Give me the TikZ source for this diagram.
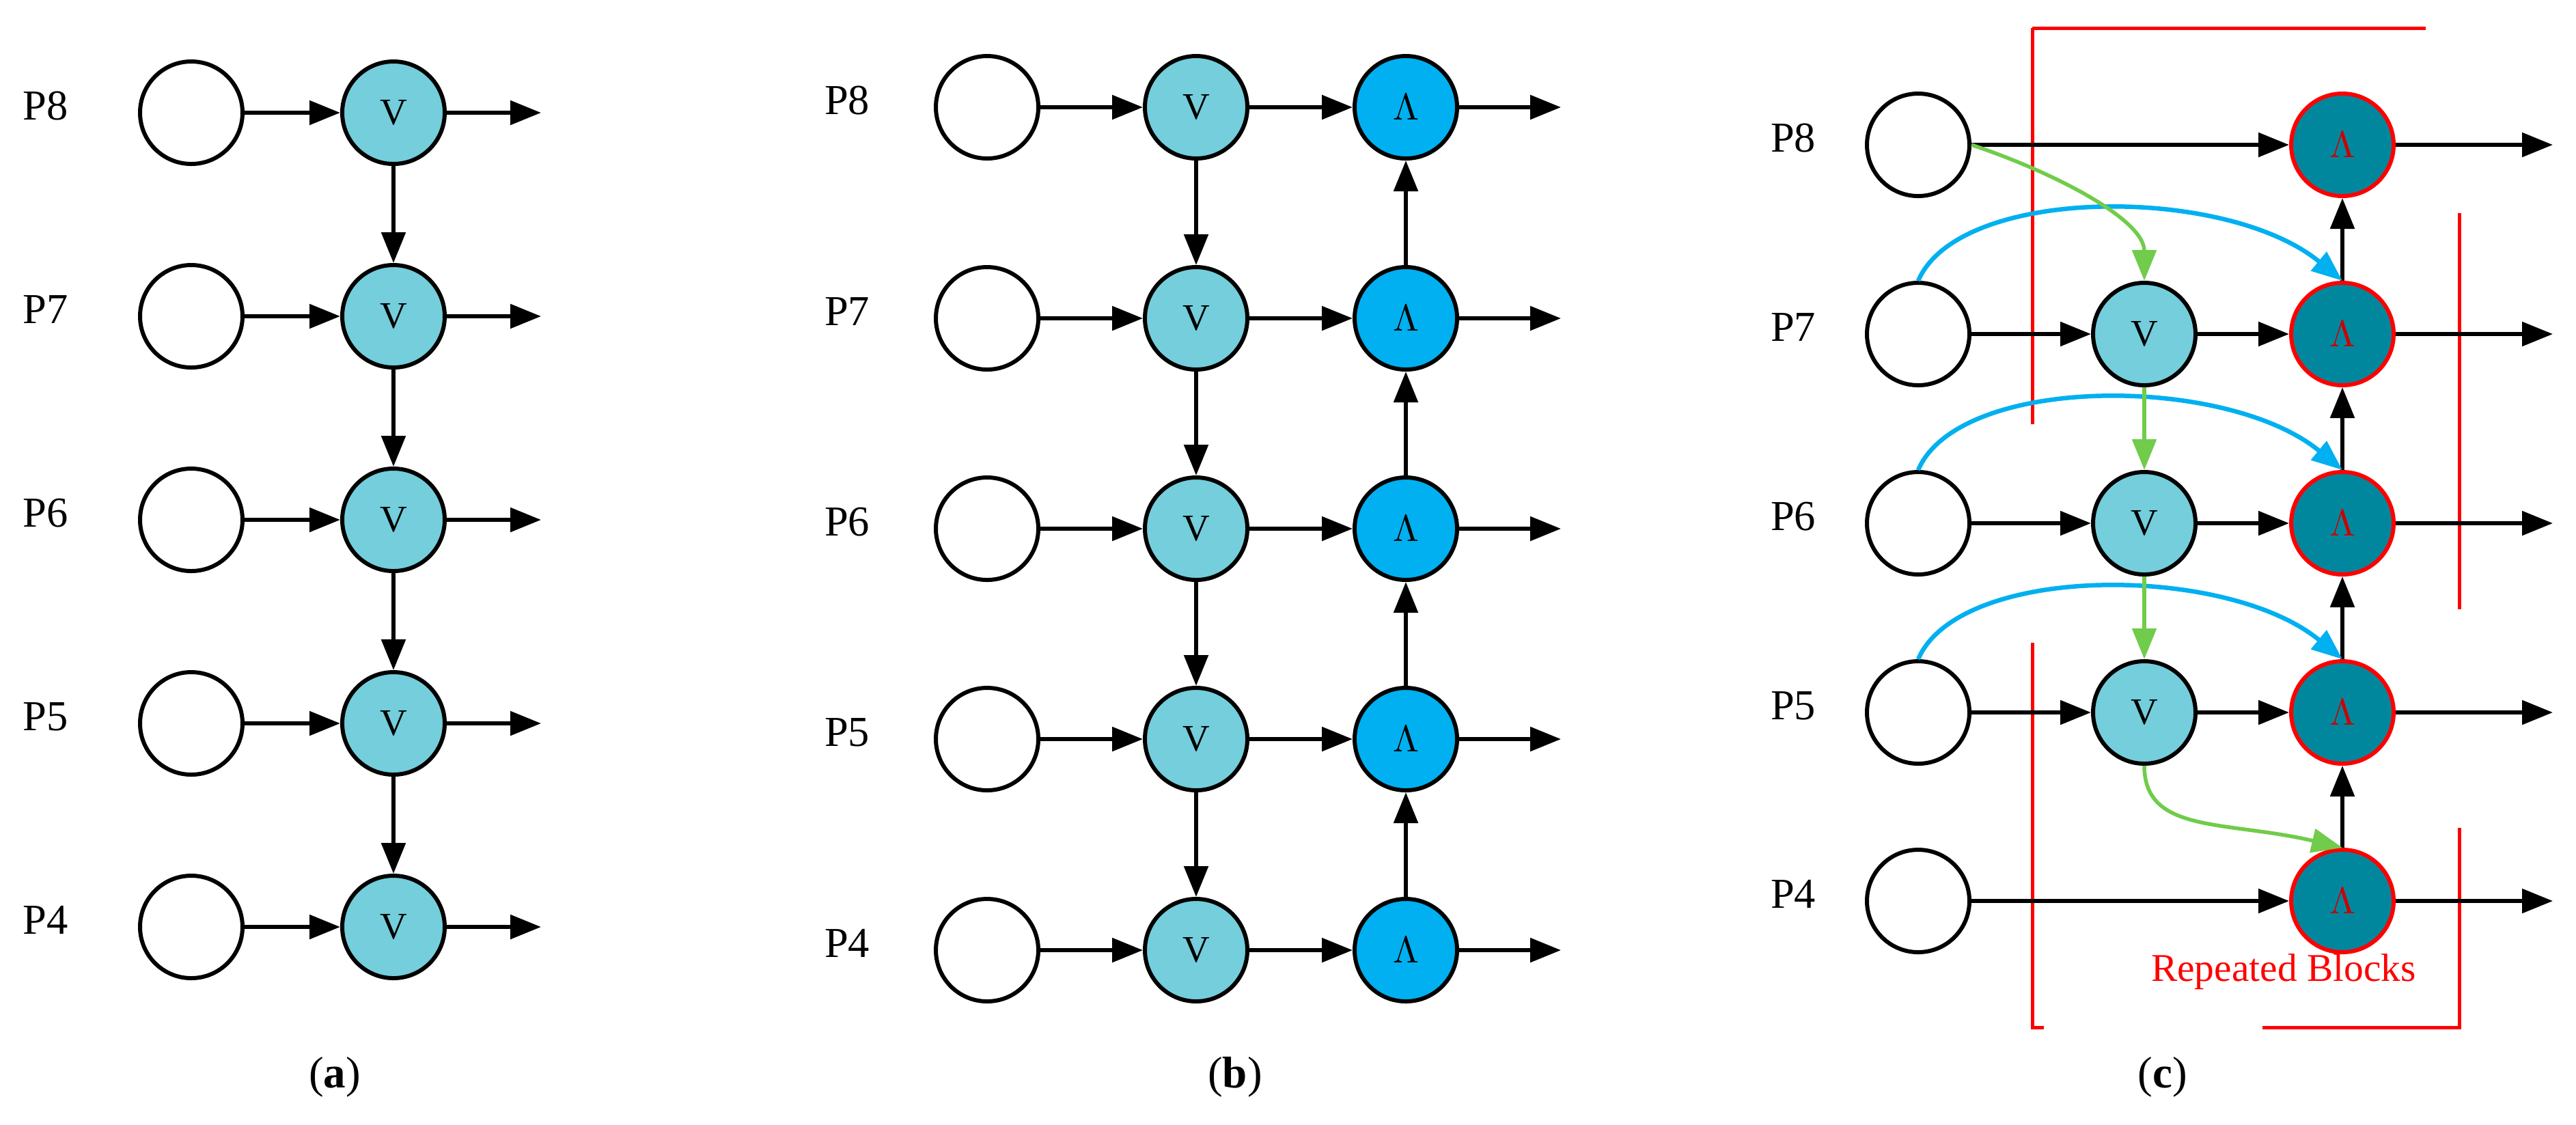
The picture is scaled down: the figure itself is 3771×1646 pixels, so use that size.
\documentclass[tikz,border=0pt]{standalone}
\usepackage{fontspec}
\setmainfont{Liberation Serif}
\usetikzlibrary{arrows.meta}
\definecolor{vfill}{HTML}{74CEDC}
\definecolor{lfill}{HTML}{00B0F0}
\definecolor{cfill}{HTML}{00879E}
\definecolor{bluearc}{HTML}{00B0F0}
\definecolor{greenarc}{HTML}{70CC4A}
\begin{document}
\begin{tikzpicture}[x=0.2pt,y=-0.2pt,
  nd/.style={circle,draw=black,line width=1.2pt,minimum size=30pt,inner sep=0pt,font=\fontsize{11}{11}\selectfont},
  wn/.style={nd,fill=white},
  vn/.style={nd,fill=vfill},
  ln/.style={nd,fill=lfill},
  cn/.style={nd,fill=cfill,draw=red,text=red!80!black},
  lab/.style={font=\fontsize{12.5}{12.5}\selectfont},
  ar/.style={line width=1.1pt,-{Triangle[length=9pt,width=7pt]}},
  gar/.style={line width=1.1pt,draw=greenarc,-{Triangle[length=9pt,width=7pt]},greenarc},
  bar/.style={line width=1.3pt,draw=bluearc,-{Triangle[length=9pt,width=7pt]},bluearc},
  captxt/.style={font=\fontsize{13}{13}\selectfont}]
\useasboundingbox (0,0) rectangle (3771,1646);
% ---------- panel a
\foreach \n/\y in {8/165,7/463,6/761,5/1059,4/1357}{
  \node[lab] (aP\n) at (67,\y-10) {P\n};
  \node[wn] (aw\n) at (280,\y) {};
  \node[vn] (av\n) at (576,\y) {V};
  \coordinate (ae\n) at (792,\y);
  \draw[ar] (aw\n) -- (av\n);
  \draw[ar] (av\n) -- (ae\n);
}
\foreach \a/\b in {8/7,7/6,6/5,5/4}{\draw[ar] (av\a) -- (av\b);}
\node[captxt] (capa) at (490,1577) {(\textbf{a})};
% ---------- panel b
\foreach \n/\y in {8/157,7/466,6/774,5/1082,4/1391}{
  \node[lab] (bP\n) at (1240,\y-10) {P\n};
  \node[wn] (bw\n) at (1445,\y) {};
  \node[vn] (bv\n) at (1751,\y) {V};
  \node[ln] (bl\n) at (2058,\y) {$\Lambda$};
  \coordinate (be\n) at (2285,\y);
  \draw[ar] (bw\n) -- (bv\n);
  \draw[ar] (bv\n) -- (bl\n);
  \draw[ar] (bl\n) -- (be\n);
}
\foreach \a/\b in {8/7,7/6,6/5,5/4}{\draw[ar] (bv\a) -- (bv\b); \draw[ar] (bl\b) -- (bl\a);}
\node[captxt] (capb) at (1808,1577) {(\textbf{b})};
% ---------- panel c
\draw[red,line width=1pt,dash pattern=on 116 off 64] (2975,41) rectangle (3600,1504);
\node[text=red,font=\fontsize{11.5}{11.5}\selectfont] (rb) at (3343,1423) {Repeated Blocks};
\foreach \n/\y in {8/212,7/489,6/766,5/1043,4/1319}{
  \node[lab] (cP\n) at (2625,\y-10) {P\n};
  \node[wn] (cw\n) at (2808,\y) {};
  \node[cn] (cl\n) at (3429,\y) {$\Lambda$};
  \coordinate (ce\n) at (3737,\y);
  \draw[ar] (cl\n) -- (ce\n);
}
\foreach \n/\y in {7/489,6/766,5/1043}{
  \node[vn] (cv\n) at (3139,\y) {V};
  \draw[ar] (cw\n) -- (cv\n);
  \draw[ar] (cv\n) -- (cl\n);
}
\draw[ar] (cw8) -- (cl8);
\draw[ar] (cw4) -- (cl4);
\foreach \a/\b in {8/7,7/6,6/5,5/4}{\draw[ar] (cl\b) -- (cl\a);}
\foreach \n in {7,6,5}{
  \draw[bar] (cw\n.north) .. controls +(60,-140) and +(-170,-140) .. (cl\n.north);
}
\draw[gar] (cw8.east) .. controls +(120,40) and +(0,-90) .. (cv7.north);
\draw[gar] (cv7) -- (cv6);
\draw[gar] (cv6) -- (cv5);
\draw[gar] (cv5.south) .. controls +(0,100) and +(-170,-40) .. (cl4.north);
\node[captxt] (capc) at (3166,1577) {(\textbf{c})};
\end{tikzpicture}
\end{document}
